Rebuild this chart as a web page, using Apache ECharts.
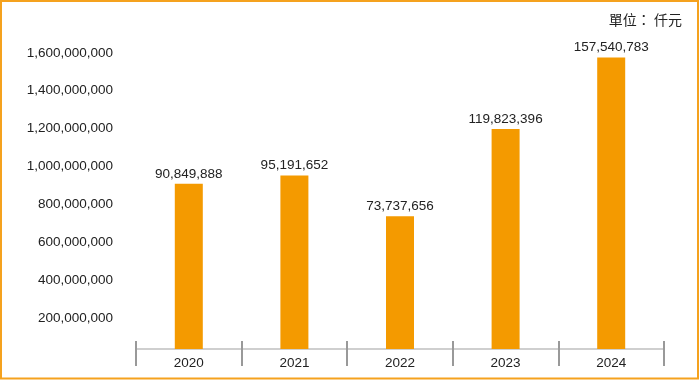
<!DOCTYPE html>
<html>
<head>
<meta charset="utf-8">
<script src="https://cdn.jsdelivr.net/npm/echarts@6/dist/echarts.min.js"></script>
<style>
  html, body { margin: 0; padding: 0; background: #fff; }
  #chart { width: 700px; height: 380px; }
</style>
</head>
<body>
<div id="chart"></div>
<script>
const categories = ['2020', '2021', '2022', '2023', '2024'];
const values = [90849888, 95191652, 73737656, 119823396, 157540783];
const tickValues = [20000000, 40000000, 60000000, 80000000, 100000000, 120000000, 140000000, 160000000];
const tickLabels = ['200,000,000', '400,000,000', '600,000,000', '800,000,000', '1,000,000,000', '1,200,000,000', '1,400,000,000', '1,600,000,000'];
const unitText = '單位： 仟元';

const fmt = n => n.toLocaleString('en-US');
const FONT = '"Liberation Sans", Arial, sans-serif';

const chart = echarts.init(document.getElementById('chart'), null, { renderer: 'canvas' });
chart.setOption({
  animation: false,
  backgroundColor: '#fff',
  grid: { left: 136, right: 36, top: 52.8, bottom: 31, containLabel: false },
  xAxis: [
    {
      type: 'category',
      data: categories,
      boundaryGap: true,
      axisLine: { show: true, lineStyle: { color: '#cfcfcf', width: 2 } },
      axisTick: { show: true, inside: false, length: 17, alignWithLabel: false, lineStyle: { color: '#999', width: 2 } },
      axisLabel: { show: true, margin: 7, color: '#222', fontSize: 13.5, fontFamily: FONT }
    },
    {
      type: 'category',
      data: categories,
      position: 'bottom',
      boundaryGap: true,
      axisLine: { show: false },
      axisTick: { show: true, inside: true, length: 8, alignWithLabel: false, lineStyle: { color: '#999', width: 2 } },
      axisLabel: { show: false }
    }
  ],
  yAxis: {
    type: 'value',
    min: 3690000,
    max: 160000000,
    axisLine: { show: false },
    axisTick: { show: false, customValues: tickValues },
    splitLine: { show: false },
    axisLabel: {
      show: true,
      customValues: tickValues,
      margin: 23,
      color: '#222',
      fontSize: 13.5,
      fontFamily: FONT,
      formatter: v => {
        const i = tickValues.indexOf(v);
        return i >= 0 ? tickLabels[i] : '';
      }
    }
  },
  series: [{
    type: 'bar',
    data: values,
    barWidth: 28,
    itemStyle: { color: '#F49A00' },
    label: {
      show: true,
      position: 'top',
      distance: 3,
      color: '#222',
      fontSize: 13.5,
      fontFamily: FONT,
      formatter: p => fmt(p.value)
    }
  }],
  graphic: [
    {
      type: 'rect',
      shape: { x: 1, y: 1, width: 697, height: 377.5 },
      style: { fill: 'none', stroke: '#F5A21E', lineWidth: 2 },
      silent: true,
      z: 100
    },
    {
      type: 'text',
      x: 682,
      y: 20,
      style: {
        text: unitText,
        fill: '#222',
        font: '14px "Noto Sans CJK TC", "Noto Sans CJK SC", sans-serif',
        align: 'right',
        verticalAlign: 'middle'
      }
    }
  ]
});
</script>
</body>
</html>
